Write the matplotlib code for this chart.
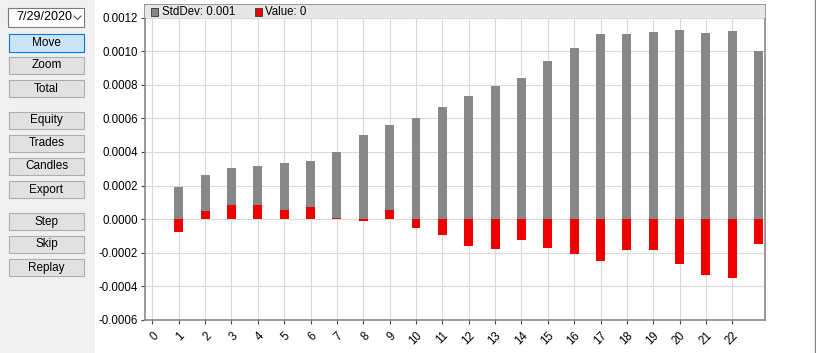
import numpy as np
import matplotlib
matplotlib.use('Agg')
import matplotlib.pyplot as plt
from matplotlib.patches import Rectangle

plt.rcParams['font.family'] = ['Liberation Sans', 'DejaVu Sans']

# data
steps = list(range(1, 24))
stddev = [0.000193, 0.000263, 0.000303, 0.000316, 0.000334, 0.000346, 0.000400,
          0.000502, 0.000561, 0.000603, 0.000669, 0.000734, 0.000794, 0.000842,
          0.000943, 0.001020, 0.001100, 0.001100, 0.001116, 0.001128, 0.001110,
          0.001122, 0.001003]
value = [-0.000075, 0.000046, 0.000082, 0.000082, 0.000052, 0.000075, 0.000005,
         -0.000010, 0.000052, -0.000050, -0.000092, -0.000157, -0.000177, -0.000123,
         -0.000171, -0.000207, -0.000247, -0.000183, -0.000183, -0.000267, -0.000332,
         -0.000350, -0.000145]
xticks = list(range(0, 23))
yticks = [-0.0006, -0.0004, -0.0002, 0.0, 0.0002, 0.0004, 0.0006, 0.0008, 0.0010, 0.0012]
legend_labels = ['StdDev: 0.001', 'Value: 0']
buttons = [('Move', 34, 52), ('Zoom', 57, 74), ('Total', 80, 97),
           ('Equity', 112, 129), ('Trades', 135, 152), ('Candles', 158, 175),
           ('Export', 181, 198), ('Step', 213, 230), ('Skip', 236, 253),
           ('Replay', 259, 276)]

W, H = 816, 353
fig = plt.figure(figsize=(W / 100, H / 100), dpi=100)
fig.patch.set_facecolor('white')

def px(x0, y0, x1, y1):
    # pixel box (top-left origin) -> figure fraction rect
    return (x0 / W, 1 - y1 / H), (x1 - x0) / W, (y1 - y0) / H

# left panel
xy, w, h = px(0, 0, 95, H)
fig.patches.append(Rectangle(xy, w, h, transform=fig.transFigure, facecolor='#f0f0f0', edgecolor='none'))
xy, w, h = px(8, 8, 84, 27)
fig.patches.append(Rectangle(xy, w, h, transform=fig.transFigure, facecolor='white', edgecolor='#7a7a7a', lw=0.8))
fig.text(16.5 / W, 1 - 17.5 / H, '7/29/2020', fontsize=9, va='center', ha='left', color='black')
# dropdown button covers the end of the date, like the combobox does
xy, w, h = px(71.5, 9, 83.5, 26)
fig.add_artist(Rectangle(xy, w, h, transform=fig.transFigure, facecolor='white', edgecolor='none', zorder=4))
fig.add_artist(plt.Line2D([74 / W, 77.5 / W, 81 / W], [1 - 16 / H, 1 - 19.5 / H, 1 - 16 / H],
                          transform=fig.transFigure, color='#555555', lw=0.8, zorder=5))
for name, y0, y1 in buttons:
    xy, w, h = px(9, y0, 84, y1)
    if name == 'Move':
        fc, ec = '#cce4f7', '#0078d7'
    else:
        fc, ec = '#e1e1e1', '#adadad'
    fig.patches.append(Rectangle(xy, w, h, transform=fig.transFigure, facecolor=fc, edgecolor=ec, lw=0.8))
    fig.text(46.5 / W, 1 - (y0 + y1) / 2 / H, name, fontsize=8.5, ha='center', va='center', color='black')

# right edge line
fig.add_artist(plt.Line2D([815 / W, 815 / W], [0, 1], transform=fig.transFigure, color='#888888', lw=1))

ax = fig.add_axes([145 / W, 1 - 320 / H, (765 - 145) / W, (320 - 5) / H])
x = np.array(steps)
ax.bar(x, stddev, width=0.34, color='#878787', zorder=3)
ax.bar(x, value, width=0.34, color='#ee0000', zorder=4)

ax.set_xlim(-0.28, 23.24)
ax.set_ylim(-0.0006, 0.001275)
ax.set_xticks(xticks)
ax.set_xticklabels([str(t) for t in xticks], rotation=45, ha='right', rotation_mode='anchor', fontsize=8.3)
ax.set_yticks(yticks)
ax.set_yticklabels(['%.4f' % v for v in yticks], fontsize=8.3)
ax.tick_params(axis='both', length=3, width=0.8, color='#444444', pad=2)
ax.tick_params(axis='x', pad=4)
ax.grid(True, color='#d9d9d9', lw=0.8, zorder=0)
for s in ax.spines.values():
    s.set_color('#888888')
    s.set_linewidth(1.2)

# legend band across the top of the plot
ax.add_patch(Rectangle((0, 1 - 13 / 315), 1, 13 / 315, transform=ax.transAxes,
                       facecolor='#e6e6e6', edgecolor='none', zorder=5, clip_on=False))
ax.add_patch(Rectangle((6 / 620, 1 - 10.5 / 315), 7 / 620, 7 / 315, transform=ax.transAxes,
                       facecolor='#878787', edgecolor='#333333', lw=0.6, zorder=6))
ax.text(17 / 620, 1 - 7 / 315, legend_labels[0], transform=ax.transAxes, fontsize=8.3, va='center', zorder=7)
ax.add_patch(Rectangle((110 / 620, 1 - 10.5 / 315), 7 / 620, 7 / 315, transform=ax.transAxes,
                       facecolor='#ee0000', edgecolor='#333333', lw=0.6, zorder=6))
ax.text(120 / 620, 1 - 7 / 315, legend_labels[1], transform=ax.transAxes, fontsize=8.3, va='center', zorder=7)

fig.savefig('out.png', dpi=100)
